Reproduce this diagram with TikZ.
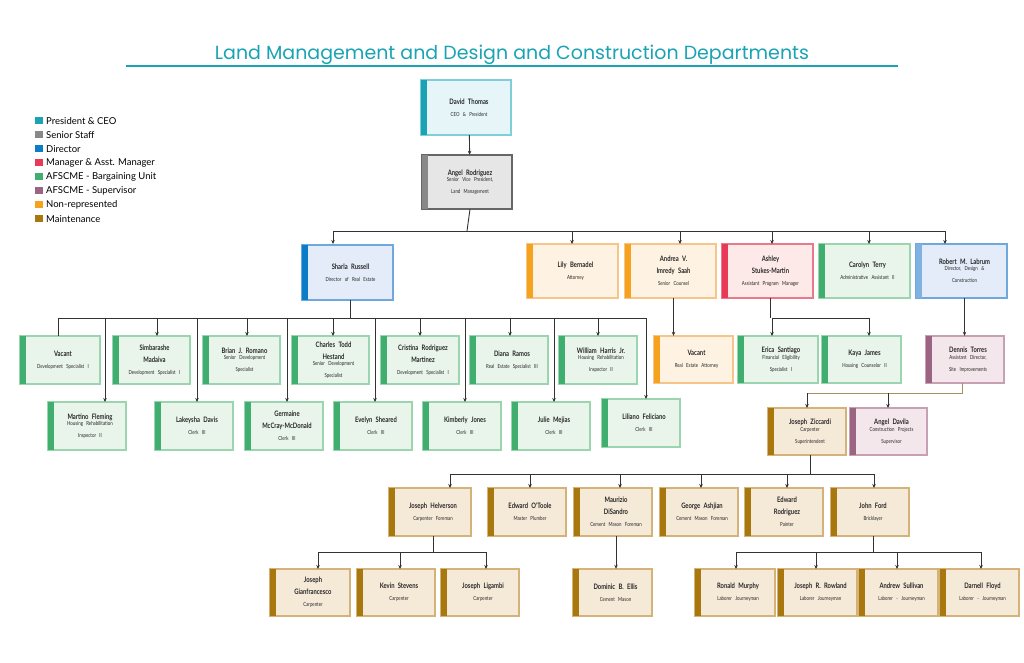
\documentclass[tikz,border=0pt]{standalone}
\usepackage{fontspec}
\setmainfont{Lato}
\newfontfamily\cond[FakeStretch=0.78]{Lato}
\newfontfamily\titlefont{Poppins}
\usetikzlibrary{arrows.meta}
\definecolor{ceoF}{HTML}{E6F6F8}\definecolor{ceoS}{HTML}{7FCFDA}\definecolor{ceoB}{HTML}{1AA3B5}
\definecolor{senF}{HTML}{E6E6E6}\definecolor{senS}{HTML}{666666}\definecolor{senB}{HTML}{888888}
\definecolor{dirF}{HTML}{E3ECF8}\definecolor{dirS}{HTML}{6FA8DC}\definecolor{dirB}{HTML}{0A7CC8}
\definecolor{dlF}{HTML}{E3ECF8}\definecolor{dlS}{HTML}{6FA8DC}\definecolor{dlB}{HTML}{7FB2E0}
\definecolor{mgrF}{HTML}{FDE9E8}\definecolor{mgrS}{HTML}{E8788A}\definecolor{mgrB}{HTML}{E83A57}
\definecolor{buF}{HTML}{E9F4EA}\definecolor{buS}{HTML}{9BD5B0}\definecolor{buB}{HTML}{3FAE6F}
\definecolor{supF}{HTML}{F3E7EC}\definecolor{supS}{HTML}{C8A0B4}\definecolor{supB}{HTML}{9B6482}
\definecolor{nrF}{HTML}{FEF2E2}\definecolor{nrS}{HTML}{F7C58A}\definecolor{nrB}{HTML}{F5A31E}
\definecolor{mtF}{HTML}{F5E9D8}\definecolor{mtS}{HTML}{D4B27A}\definecolor{mtB}{HTML}{A8780F}
\definecolor{ttl}{HTML}{1AA3B5}
\definecolor{ln}{HTML}{333333}
\newcommand\nm[1]{{\fontsize{7.5}{8.3}\selectfont\bfseries #1}}
\newcommand\ti[1]{{\fontsize{5.6}{6.4}\selectfont #1}}
\newcommand\ob[7]{%
 \fill[#6F] (#2,#3) rectangle (#4,#5);
 \draw[#6S, line width=1.2pt] (#2,#3) rectangle (#4,#5);
 \fill[#6B] (#2,#3) rectangle ({#2+6},#5);
 \pgfmathsetmacro\tw{#4-#2-12}\pgfmathsetmacro\mw{#4-#2-6}\pgfmathsetmacro\mh{#5-#3}
 \node[txt, minimum width=\mw pt, minimum height=\mh pt, text width=\tw pt] (#1) at ({(#2+6+#4)/2},{(#3+#5)/2}) {#7};}
\tikzset{txt/.style={inner sep=0pt, align=center, font=\cond, text=black!85},
 arr/.style={-{Stealth[length=4pt,width=3.5pt]}, line width=0.9pt, draw=ln},
 ln/.style={line width=0.9pt, draw=ln},
 leg/.style={anchor=west, font=\fontsize{9.5}{10}\selectfont, inner sep=0pt}}
\begin{document}
\begin{tikzpicture}[x=1pt,y=-1pt]
\useasboundingbox (0,0) rectangle (1024,663);
\fill[white] (0,0) rectangle (1024,663);
\node[font=\titlefont\fontsize{19}{22}\selectfont, text=ttl, inner sep=0pt] (title) at (512,55) {Land Management and Design and Construction Departments};
\draw[ttl, line width=1.3pt] (126,66) -- (898,66);
% legend
\foreach \c/\t [count=\i from 0] in {ceoB/President \& CEO, senB/Senior Staff, dirB/Director, mgrB/Manager \& Asst. Manager, buB/AFSCME - Bargaining Unit, supB/AFSCME - Supervisor, nrB/Non-represented, mtB/Maintenance}{
 \fill[\c] (35,{117+14*\i}) rectangle (43,{124+14*\i});
 \node[leg] (l\i) at (46,{121+14*\i}) {\t};}
% top
\ob{dt}{421}{80}{511}{135}{ceo}{\nm{David Thomas}\\\ti{CEO \& President}}
\ob{ar}{422}{155}{512}{209}{sen}{\nm{Angel Rodriguez}\\\ti{Senior Vice President,\\Land Management}}
\draw[arr] (dt) -- (ar);
% level 2
\ob{sr}{302}{245}{393}{300}{dir}{\nm{Sharla Russell}\\\ti{Director of Real Estate}}
\ob{lb}{527}{244}{618}{298}{nr}{\nm{Lily Bernadel}\\\ti{Attorney}}
\ob{av}{625}{244}{716}{298}{nr}{\nm{Andrea V.\\Imredy Saah}\\\ti{Senior Counsel}}
\ob{as}{722}{244}{813}{298}{mgr}{\nm{Ashley\\Stukes-Martin}\\\ti{Assistant Program Manager}}
\ob{ct}{819}{244}{910}{298}{bu}{\nm{Carolyn Terry}\\\ti{Administrative Assistant II}}
\ob{rl}{916}{244}{1007}{298}{dl}{\nm{Robert M. Labrum}\\\ti{Director, Design \&\\Construction}}
\coordinate (b1) at (467,231);
\draw[ln] (ar.south) -- (b1);
\draw[ln] (333,231) -- (946,231);
\foreach \n/\x in {sr/333,lb/572,av/680,as/772,ct/869,rl/945}
 \draw[arr] (\x,231) -- (\x,244);
% Sharla children
\draw[ln] (sr.south) -- (sr.south |- 0,318);
\draw[ln] (58,318) -- (646,318);
\ob{v1}{20}{336}{100}{384}{bu}{\nm{Vacant}\\\ti{Development Specialist I}}
\ob{sm}{113}{336}{190}{384}{bu}{\nm{Simbarashe\\Madaiva}\\\ti{Development Specialist I}}
\ob{br}{203}{336}{280}{384}{bu}{\nm{Brian J. Romano}\\\ti{Senior Development\\Specialist}}
\ob{ch}{292}{336}{369}{384}{bu}{\nm{Charles Todd\\Hestand}\\\ti{Senior Development\\Specialist}}
\ob{cr}{381}{336}{459}{384}{bu}{\nm{Cristina Rodriguez\\Martinez}\\\ti{Development Specialist I}}
\ob{dr}{470}{336}{548}{384}{bu}{\nm{Diana Ramos}\\\ti{Real Estate Specialist III}}
\ob{wh}{559}{336}{637}{384}{bu}{\nm{William Harris Jr.}\\\ti{Housing Rehabilitation\\Inspector II}}
\draw[ln] (58,318) -- (58,336);
\foreach \x in {157,247,333,420,510,598} \draw[arr] (\x,318) -- (\x,336);
\ob{mf}{48}{402}{126}{450}{bu}{\nm{Martino Fleming}\\\ti{Housing Rehabilitation\\Inspector II}}
\ob{ld}{155}{402}{233}{450}{bu}{\nm{Lakeysha Davis}\\\ti{Clerk III}}
\ob{gm}{245}{402}{323}{450}{bu}{\nm{Germaine\\McCray-McDonald}\\\ti{Clerk III}}
\ob{es}{334}{402}{412}{450}{bu}{\nm{Evelyn Sheared}\\\ti{Clerk III}}
\ob{kj}{423}{402}{501}{450}{bu}{\nm{Kimberly Jones}\\\ti{Clerk III}}
\ob{jm}{512}{402}{590}{450}{bu}{\nm{Julie Mejias}\\\ti{Clerk III}}
\ob{lf}{602}{399}{680}{447}{bu}{\nm{Liliano Feliciano}\\\ti{Clerk III}}
\foreach \x in {105,197,287,375,465,554} \draw[arr] (\x,318) -- (\x,402);
\draw[arr] (646,318) -- (646,399);
% Andrea child
\ob{va}{654}{336}{733}{383}{nr}{\nm{Vacant}\\\ti{Real Estate Attorney}}
\draw[arr] (av.south) -- (av.south |- va.north);
% Ashley children
\ob{es2}{738}{336}{818}{383}{bu}{\nm{Erica Santiago}\\\ti{Financial Eligibility\\Specialist I}}
\ob{kaj}{822}{336}{901}{383}{bu}{\nm{Kaya James}\\\ti{Housing Counselor II}}
\draw[ln] (as.south) -- (as.south |- 0,318);
\draw[ln] (772,318) -- (869,318);
\draw[arr] (772,318) -- (772,336);
\draw[arr] (869,318) -- (869,336);
% Robert child
\ob{dnt}{926}{336}{1004}{383}{sup}{\nm{Dennis Torres}\\\ti{Assistant Director,\\Site Improvements}}
\draw[arr] (rl.south) -- (rl.south |- dnt.north);
\ob{jz}{768}{408}{846}{455}{mt}{\nm{Joseph Ziccardi}\\\ti{Carpenter\\Superintendent}}
\ob{ad}{850}{408}{927}{455}{sup}{\nm{Angel Davila}\\\ti{Construction Projects\\Supervisor}}
\draw[mtS!80!black, line width=0.9pt] (962,383) -- (962,393) -- (807,393);
\draw[arr] (807,393) -- (807,408);
\draw[arr] (888,393) -- (888,408);
% Ziccardi children
\ob{jh}{389}{488}{471}{536}{mt}{\nm{Joseph Helverson}\\\ti{Carpenter Foreman}}
\ob{eo}{488}{488}{566}{536}{mt}{\nm{Edward O'Toole}\\\ti{Master Plumber}}
\ob{md}{574}{488}{652}{536}{mt}{\nm{Maurizio\\DiSandro}\\\ti{Cement Mason Foreman}}
\ob{ga}{660}{488}{738}{536}{mt}{\nm{George Ashjian}\\\ti{Cement Mason Foreman}}
\ob{er}{745}{488}{823}{536}{mt}{\nm{Edward\\Rodriguez}\\\ti{Painter}}
\ob{jf}{831}{488}{909}{536}{mt}{\nm{John Ford}\\\ti{Bricklayer}}
\draw[ln] (jz.south) -- (jz.south |- 0,474);
\draw[ln] (450,474) -- (874,474);
\foreach \x in {450,530,620,701,787,874} \draw[arr] (\x,474) -- (\x,488);
% Helverson children
\ob{jg}{270}{569}{350}{616}{mt}{\nm{Joseph\\Gianfrancesco}\\\ti{Carpenter}}
\ob{ks}{357}{569}{435}{616}{mt}{\nm{Kevin Stevens}\\\ti{Carpenter}}
\ob{jl}{441}{569}{519}{616}{mt}{\nm{Joseph Ligambi}\\\ti{Carpenter}}
\draw[ln] (jh.south) -- (jh.south |- 0,552);
\draw[ln] (318,552) -- (486,552);
\foreach \x in {318,400,486} \draw[arr] (\x,552) -- (\x,569);
% DiSandro child
\ob{de}{573}{569}{652}{616}{mt}{\nm{Dominic B. Ellis}\\\ti{Cement Mason}}
\draw[arr] (md.south) -- (md.south |- de.north);
% Ford children
\ob{rm}{695}{569}{775}{616}{mt}{\nm{Ronald Murphy}\\\ti{Laborer Journeyman}}
\ob{jr}{778}{569}{857}{616}{mt}{\nm{Joseph R. Rowland}\\\ti{Laborer Journeyman}}
\ob{asu}{859}{569}{938}{616}{mt}{\nm{Andrew Sullivan}\\\ti{Laborer - Journeyman}}
\ob{dfl}{940}{569}{1019}{616}{mt}{\nm{Darnell Floyd}\\\ti{Laborer - Journeyman}}
\draw[ln] (jf.south) -- (jf.south |- 0,552);
\draw[ln] (736,552) -- (981,552);
\foreach \x in {736,816,897,981} \draw[arr] (\x,552) -- (\x,569);
\end{tikzpicture}
\end{document}
